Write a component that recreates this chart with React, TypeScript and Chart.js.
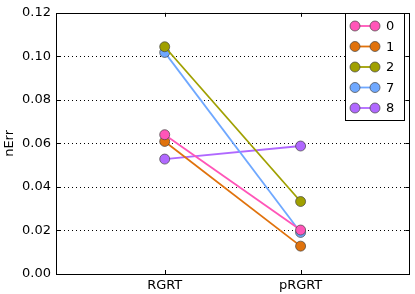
import React, { useEffect, useRef } from "react";
import { Chart, registerables } from "chart.js";

Chart.register(...registerables);

const categories = ["RGRT", "pRGRT"];
const seriesLabels = ["0", "1", "2", "7", "8"];
const s0 = [0.064, 0.0202];
const s1 = [0.0609, 0.0128];
const s2 = [0.1044, 0.0333];
const s7 = [0.1018, 0.0191];
const s8 = [0.0528, 0.0588];
const seriesValues = [s0, s1, s2, s7, s8];
const colors = ["#ff55b8", "#e0720c", "#a0a000", "#6fa8ff", "#b068ff"];
const yTicks = [0.0, 0.02, 0.04, 0.06, 0.08, 0.1, 0.12];

const FONT = "'DejaVu Sans', sans-serif";
const FS = 13;

const gridPlugin = {
  id: "dotgrid",
  beforeDatasetsDraw(chart: any) {
    const { ctx, chartArea } = chart;
    const { left, right } = chartArea;
    const ys = chart.scales.y;
    ctx.save();
    ctx.strokeStyle = "#000";
    ctx.lineWidth = 1;
    ctx.setLineDash([1, 3]);
    ctx.beginPath();
    yTicks.forEach((v) => {
      const py = Math.round(ys.getPixelForValue(v)) + 0.5;
      ctx.moveTo(left, py);
      ctx.lineTo(right, py);
    });
    ctx.stroke();
    ctx.restore();
  },
};

const framePlugin = {
  id: "frame",
  afterDraw(chart: any) {
    const { ctx, chartArea } = chart;
    const { left, right, top, bottom } = chartArea;
    const xs = chart.scales.x;
    const ys = chart.scales.y;
    ctx.save();
    ctx.strokeStyle = "#000";
    ctx.lineWidth = 1;
    ctx.strokeRect(Math.round(left) + 0.5, Math.round(top) + 0.5, Math.round(right - left), Math.round(bottom - top));
    ctx.beginPath();
    categories.forEach((_, i) => {
      const px = Math.round(xs.getPixelForValue(i)) + 0.5;
      ctx.moveTo(px, bottom);
      ctx.lineTo(px, bottom - 4);
      ctx.moveTo(px, top);
      ctx.lineTo(px, top + 4);
    });
    yTicks.forEach((v) => {
      const py = Math.round(ys.getPixelForValue(v)) + 0.5;
      ctx.moveTo(left, py);
      ctx.lineTo(left + 4, py);
      ctx.moveTo(right, py);
      ctx.lineTo(right - 4, py);
    });
    ctx.stroke();

    const lx = 345, ly = 13, lw = 59, lh = 107;
    ctx.fillStyle = "#fff";
    ctx.fillRect(lx, ly, lw, lh);
    ctx.strokeStyle = "#000";
    ctx.strokeRect(lx + 0.5, ly + 0.5, lw, lh);
    ctx.font = FS + "px " + FONT;
    ctx.textBaseline = "middle";
    ctx.textAlign = "left";
    seriesLabels.forEach((lab, i) => {
      const cy = ly + 13 + i * 20.5;
      const x1 = lx + 10, x2 = lx + 30;
      ctx.strokeStyle = colors[i];
      ctx.lineWidth = 1.8;
      ctx.beginPath();
      ctx.moveTo(x1, cy);
      ctx.lineTo(x2, cy);
      ctx.stroke();
      [x1, x2].forEach((x) => {
        ctx.beginPath();
        ctx.arc(x, cy, 5, 0, Math.PI * 2);
        ctx.fillStyle = colors[i];
        ctx.fill();
        ctx.strokeStyle = "#444";
        ctx.lineWidth = 0.7;
        ctx.stroke();
      });
      ctx.fillStyle = "#000";
      ctx.fillText(lab, lx + 41, cy + 1);
    });
    ctx.restore();
  },
};

export default function App() {
  const ref = useRef<HTMLCanvasElement>(null);
  useEffect(() => {
    document.body.style.margin = "0";
    const chart = new Chart(ref.current!, {
      type: "line",
      data: {
        datasets: seriesLabels.map((lab, i) => ({
          label: lab,
          data: seriesValues[i].map((v, j) => ({ x: j, y: v })),
          borderColor: colors[i],
          backgroundColor: colors[i],
          pointBackgroundColor: colors[i],
          pointBorderColor: "#444",
          pointBorderWidth: 0.7,
          pointRadius: 5,
          borderWidth: 1.8,
          fill: false,
        })),
      },
      options: {
        animation: false,
        responsive: false,
        devicePixelRatio: 1,
        layout: { padding: { top: 12, right: 3, left: 0, bottom: 0 } },
        plugins: { legend: { display: false }, tooltip: { enabled: false } },
        scales: {
          x: {
            type: "linear",
            min: -0.8,
            max: 1.8,
            afterFit: (s: any) => { s.height = 20; },
            afterBuildTicks: (s: any) => {
              s.ticks = categories.map((_, i) => ({ value: i }));
            },
            ticks: {
              callback: (v: any) => categories[v as number] ?? "",
              color: "#000",
              font: { family: FONT, size: FS },
              padding: 4,
              maxRotation: 0,
            },
            grid: { display: false, drawTicks: false, tickLength: 0 },
            border: { display: false },
          },
          y: {
            type: "linear",
            min: 0,
            max: 0.12,
            afterFit: (s: any) => { s.width = 56; },
            afterBuildTicks: (s: any) => {
              s.ticks = yTicks.map((v) => ({ value: v }));
            },
            ticks: {
              callback: (v: any) => Number(v).toFixed(2),
              color: "#000",
              font: { family: FONT, size: FS },
              padding: 5,
            },
            title: {
              display: true,
              text: "nErr",
              color: "#000",
              font: { family: FONT, size: FS },
              padding: { top: 2, bottom: 0 },
            },
            grid: { display: false, drawTicks: false, tickLength: 0 },
            border: { display: false },
          },
        },
      },
      plugins: [gridPlugin, framePlugin],
    });
    return () => chart.destroy();
  }, []);
  return (
    <div style={{ position: "absolute", left: 0, top: 0, width: 415, height: 294 }}>
      <canvas ref={ref} width={415} height={294} />
    </div>
  );
}
